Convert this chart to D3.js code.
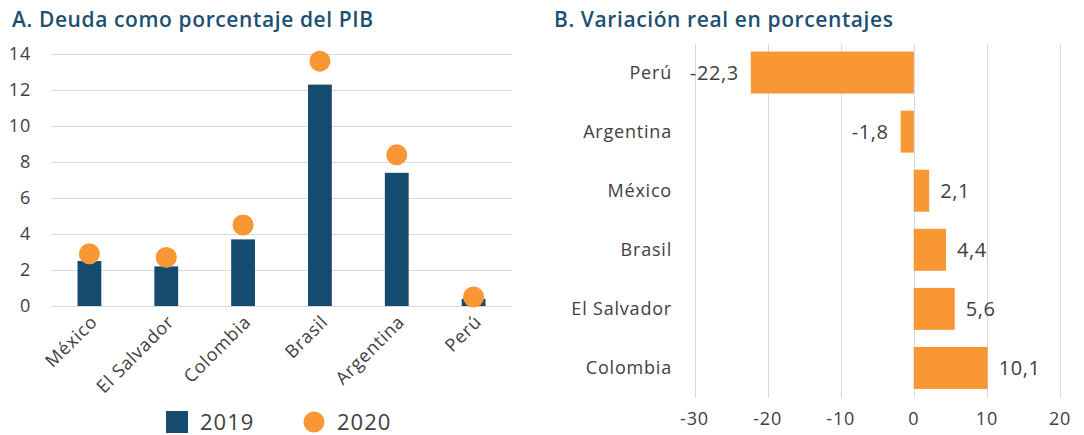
<!DOCTYPE html>
<html>
<head>
<meta charset="utf-8">
<script src="https://cdn.jsdelivr.net/npm/d3@7"></script>
<style>
  body { margin: 0; background: #fff; }
  svg { font-family: "Open Sans", sans-serif; }
  .title { fill: #1d4f73; font-size: 21px; font-weight: 600; letter-spacing: 0.6px; }
  .tick-label { fill: #404040; font-size: 18px; letter-spacing: 0.8px; }
  .val-label { fill: #404040; font-size: 20px; letter-spacing: 0.6px; }
  .leg-label { fill: #404040; font-size: 22px; letter-spacing: 1px; }
  .grid line { stroke: #d9d9d9; stroke-width: 1; }
</style>
</head>
<body>
<svg id="chart" width="1084" height="435"></svg>
<script>
// panel A: deuda como % del PIB
var countriesA = ["México", "El Salvador", "Colombia", "Brasil", "Argentina", "Perú"];
var deuda2019 = [2.5, 2.2, 3.7, 12.3, 7.4, 0.4];
var deuda2020 = [2.9, 2.7, 4.5, 13.6, 8.4, 0.5];
var yTicksA = [0, 2, 4, 6, 8, 10, 12, 14];

// panel B: variación real
var countriesB = ["Perú", "Argentina", "México", "Brasil", "El Salvador", "Colombia"];
var variacion = [-22.3, -1.8, 2.1, 4.4, 5.6, 10.1];
var xTicksB = [-30, -20, -10, 0, 10, 20];

var BLUE = "#154b6e", ORANGE = "#f89734";
var svg = d3.select("#chart");
// coma decimal y guion normal como en el original
var fmt = function(v) { return v.toFixed(1).replace(".", ","); };

// ---------- PANEL A ----------
var gA = svg.append("g");
gA.append("text").attr("class", "title").attr("x", 12).attr("y", 27)
  .text("A. Deuda como porcentaje del PIB");

var xA = d3.scaleBand().domain(countriesA).range([51, 512]).paddingInner(0.69).paddingOuter(0.345);
var yA = d3.scaleLinear().domain([0, 14]).range([306, 54]);

gA.append("g").attr("class", "grid")
  .selectAll("line").data(yTicksA).enter().append("line")
  .attr("x1", 51).attr("x2", 512)
  .attr("y1", function(d) { return yA(d) + 0.5; })
  .attr("y2", function(d) { return yA(d) + 0.5; });

gA.selectAll(".ytick").data(yTicksA).enter().append("text")
  .attr("class", "tick-label")
  .attr("x", 31).attr("y", function(d) { return yA(d); })
  .attr("dy", "0.35em").attr("text-anchor", "end")
  .text(function(d) { return d; });

gA.selectAll(".bar").data(countriesA).enter().append("rect")
  .attr("fill", BLUE)
  .attr("x", function(d) { return xA(d); })
  .attr("width", xA.bandwidth())
  .attr("y", function(d, i) { return yA(deuda2019[i]); })
  .attr("height", function(d, i) { return yA(0) - yA(deuda2019[i]); });

gA.selectAll(".dot").data(countriesA).enter().append("circle")
  .attr("fill", ORANGE).attr("r", 10.5)
  .attr("cx", function(d) { return xA(d) + xA.bandwidth() / 2; })
  .attr("cy", function(d, i) { return yA(deuda2020[i]); });

gA.selectAll(".xlab").data(countriesA).enter().append("text")
  .attr("class", "tick-label")
  .attr("text-anchor", "end")
  .attr("transform", function(d) {
    return "translate(" + (xA(d) + xA.bandwidth() / 2 + 9) + ",323) rotate(-45)";
  })
  .text(function(d) { return d; });

// legend
var leg = gA.append("g");
leg.append("rect").attr("x", 166).attr("y", 411).attr("width", 22).attr("height", 22).attr("fill", BLUE);
leg.append("text").attr("class", "leg-label").attr("x", 200).attr("y", 430).text("2019");
leg.append("circle").attr("cx", 314).attr("cy", 422).attr("r", 10.5).attr("fill", ORANGE);
leg.append("text").attr("class", "leg-label").attr("x", 337).attr("y", 430).text("2020");

// ---------- PANEL B ----------
var gB = svg.append("g");
gB.append("text").attr("class", "title").attr("x", 554).attr("y", 27)
  .text("B. Variación real en porcentajes");

var xB = d3.scaleLinear().domain([-30, 20]).range([694.5, 1060]);
var yB = d3.scaleBand().domain(countriesB).range([43, 397.5]).paddingInner(0.29).paddingOuter(0.145);

gB.append("g").attr("class", "grid")
  .selectAll("line").data(xTicksB).enter().append("line")
  .attr("x1", function(d) { return Math.round(xB(d)) + 0.5; })
  .attr("x2", function(d) { return Math.round(xB(d)) + 0.5; })
  .attr("y1", 44).attr("y2", 398);

gB.selectAll(".xtick").data(xTicksB).enter().append("text")
  .attr("class", "tick-label")
  .attr("x", function(d) { return xB(d); }).attr("y", 425)
  .attr("text-anchor", "middle")
  .text(function(d) { return d; });

gB.selectAll(".hbar").data(countriesB).enter().append("rect")
  .attr("fill", ORANGE)
  .attr("x", function(d, i) { return xB(Math.min(0, variacion[i])); })
  .attr("width", function(d, i) { return Math.abs(xB(variacion[i]) - xB(0)); })
  .attr("y", function(d) { return yB(d); })
  .attr("height", yB.bandwidth());

gB.selectAll(".ylab").data(countriesB).enter().append("text")
  .attr("class", "tick-label")
  .attr("x", 672).attr("text-anchor", "end")
  .attr("y", function(d) { return yB(d) + yB.bandwidth() / 2; })
  .attr("dy", "0.35em")
  .text(function(d) { return d; });

gB.selectAll(".vlab").data(countriesB).enter().append("text")
  .attr("class", "val-label")
  .attr("x", function(d, i) { return variacion[i] < 0 ? xB(variacion[i]) - 12 : xB(variacion[i]) + 11; })
  .attr("text-anchor", function(d, i) { return variacion[i] < 0 ? "end" : "start"; })
  .attr("y", function(d) { return yB(d) + yB.bandwidth() / 2; })
  .attr("dy", "0.35em")
  .text(function(d, i) { return fmt(variacion[i]); });
</script>
</body>
</html>
